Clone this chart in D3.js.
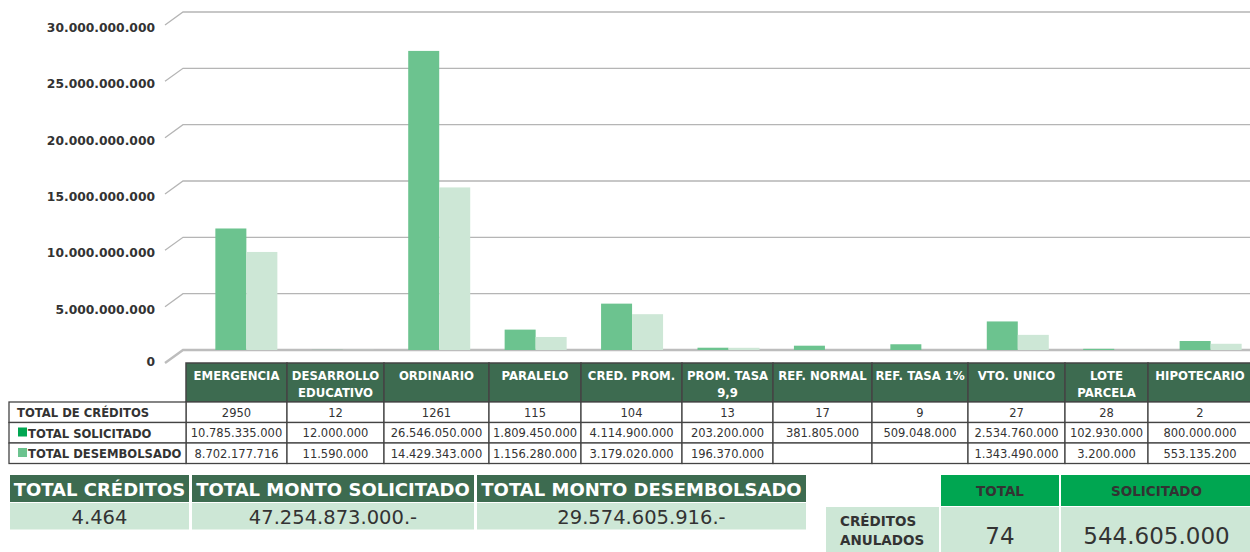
<!DOCTYPE html>
<html>
<head>
<meta charset="utf-8">
<script src="https://cdn.jsdelivr.net/npm/d3@7"></script>
<style>
  body { margin: 0; background: #fff; }
  svg { display: block; font-family: "DejaVu Sans", sans-serif; }
</style>
</head>
<body>
<div id="chart"></div>
<script>
// data
var categories = ["EMERGENCIA", "DESARROLLO|EDUCATIVO", "ORDINARIO", "PARALELO", "CRED. PROM.",
  "PROM. TASA|9,9", "REF. NORMAL", "REF. TASA 1%", "VTO. UNICO", "LOTE|PARCELA", "HIPOTECARIO"];
var totalCreditos = [2950, 12, 1261, 115, 104, 13, 17, 9, 27, 28, 2];
var solicitado = [10785335000, 12000000, 26546050000, 1809450000, 4114900000, 203200000,
  381805000, 509048000, 2534760000, 102930000, 800000000];
var desembolsado = [8702177716, 11590000, 14429343000, 1156280000, 3179020000, 196370000,
  null, null, 1343490000, 3200000, 553135200];
var yTicks = [0, 5000000000, 10000000000, 15000000000, 20000000000, 25000000000, 30000000000];
var rowLabels = ["TOTAL DE CRÉDITOS", "TOTAL SOLICITADO", "TOTAL DESEMBOLSADO"];
var totalLabels = ["TOTAL CRÉDITOS", "TOTAL MONTO SOLICITADO", "TOTAL MONTO DESEMBOLSADO"];
var totalValues = ["4.464", "47.254.873.000.-", "29.574.605.916.-"];
var anuladosLabels = ["TOTAL", "SOLICITADO"];
var anuladosValues = [74, 544605000];

var W = 1250, H = 552;
var cSolic = "#6cc38f", cDesem = "#cde7d6", cHead = "#3d6b50", cBright = "#00a651";
var cText = "#333", cBorder = "#444";

var es = d3.formatLocale({ decimal: ",", thousands: ".", grouping: [3], currency: ["$", ""] });
var fmt = es.format(",d");

var svg = d3.select("#chart").append("svg").attr("width", W).attr("height", H);

// scales
var y = d3.scaleLinear().domain([0, 30000000000]).range([350, 12]);
var x = d3.scaleBand().domain(categories).range([198, 1259]).paddingInner(0.357).paddingOuter(0.18);
var xs = d3.scaleBand().domain(["s", "d"]).range([0, x.bandwidth()]);

// gridlines, slanted on the left like the 3d back wall
var grid = svg.append("g");
yTicks.forEach(function (t) {
  var yy = y(t);
  var floor = t === 0;
  grid.append("path")
    .attr("d", "M165," + (yy + 13) + "L183," + yy + "L" + W + "," + yy)
    .attr("fill", "none")
    .attr("stroke", floor ? "#bdbdbd" : "#b5b5b5")
    .attr("stroke-width", floor ? 2.4 : 1.3);
  grid.append("text")
    .attr("x", 155).attr("y", yy + (floor ? 16 : 20))
    .attr("text-anchor", "end")
    .attr("font-size", 12.3).attr("font-weight", "bold")
    .attr("fill", cText)
    .text(fmt(t));
});

// bars
var bars = svg.append("g");
categories.forEach(function (c, i) {
  bars.append("rect")
    .attr("x", x(c) + xs("s")).attr("width", xs.bandwidth())
    .attr("y", y(solicitado[i])).attr("height", y(0) - y(solicitado[i]))
    .attr("fill", cSolic);
  if (desembolsado[i] != null) {
    bars.append("rect")
      .attr("x", x(c) + xs("d")).attr("width", xs.bandwidth())
      .attr("y", y(desembolsado[i])).attr("height", y(0) - y(desembolsado[i]))
      .attr("fill", cDesem);
  }
});

// data table under the chart
var colEdges = [186, 287, 384, 489, 581, 682, 773, 872, 968, 1065, 1148, 1252];
var rowEdges = [402, 422.5, 443, 463.5];
var table = svg.append("g");

categories.forEach(function (c, i) {
  var x0 = colEdges[i], x1 = colEdges[i + 1], cx = (x0 + x1) / 2;
  table.append("rect").attr("x", x0).attr("y", 363).attr("width", x1 - x0).attr("height", 39)
    .attr("fill", cHead).attr("stroke", cBorder).attr("stroke-width", 1.5);
  c.split("|").forEach(function (line, k) {
    table.append("text").attr("x", cx).attr("y", 380 + k * 16.5)
      .attr("text-anchor", "middle").attr("font-size", 11.7).attr("font-weight", "bold")
      .attr("fill", "#fff").text(line);
  });
  var vals = [totalCreditos[i], solicitado[i], desembolsado[i]];
  vals.forEach(function (v, r) {
    table.append("rect").attr("x", x0).attr("y", rowEdges[r])
      .attr("width", x1 - x0).attr("height", rowEdges[r + 1] - rowEdges[r])
      .attr("fill", "#fff").attr("stroke", cBorder).attr("stroke-width", 1.3);
    if (v != null) {
      table.append("text").attr("x", cx).attr("y", rowEdges[r] + 14.5)
        .attr("text-anchor", "middle").attr("font-size", 11.5)
        .attr("fill", cText).text(r === 0 ? v : fmt(v));
    }
  });
});

rowLabels.forEach(function (lab, r) {
  table.append("rect").attr("x", 9).attr("y", rowEdges[r])
    .attr("width", 177).attr("height", rowEdges[r + 1] - rowEdges[r])
    .attr("fill", "#fff").attr("stroke", cBorder).attr("stroke-width", 1.3);
  var tx = 17;
  if (r > 0) {
    table.append("rect").attr("x", 18).attr("y", rowEdges[r] + 5).attr("width", 9).attr("height", 9)
      .attr("fill", r === 1 ? cBright : cSolic);
    tx = 28;
  }
  table.append("text").attr("x", tx).attr("y", rowEdges[r] + 15)
    .attr("font-size", 11.6).attr("font-weight", "bold").attr("fill", cText).text(lab);
});

// summary totals
var totCols = [[10, 189], [192, 474], [477, 806]];
var totals = svg.append("g");
totalLabels.forEach(function (lab, i) {
  var x0 = totCols[i][0], x1 = totCols[i][1], cx = (x0 + x1) / 2;
  totals.append("rect").attr("x", x0).attr("y", 475).attr("width", x1 - x0).attr("height", 27)
    .attr("fill", cHead);
  totals.append("rect").attr("x", x0).attr("y", 503).attr("width", x1 - x0).attr("height", 26.5)
    .attr("fill", cDesem);
  totals.append("text").attr("x", cx).attr("y", 495.5).attr("text-anchor", "middle")
    .attr("font-size", 18).attr("font-weight", "bold").attr("fill", "#fff").text(lab);
  totals.append("text").attr("x", cx).attr("y", 523.5).attr("text-anchor", "middle")
    .attr("font-size", 19.5).attr("fill", cText).text(totalValues[i]);
});

// creditos anulados
var anCols = [[941, 1059], [1061, 1252]];
var an = svg.append("g");
an.append("rect").attr("x", 826).attr("y", 507).attr("width", 113).attr("height", 46).attr("fill", cDesem);
an.append("text").attr("x", 840).attr("y", 526).attr("font-size", 13.5).attr("font-weight", "bold")
  .attr("fill", cText).text("CRÉDITOS");
an.append("text").attr("x", 840).attr("y", 545).attr("font-size", 13.5).attr("font-weight", "bold")
  .attr("fill", cText).text("ANULADOS");
anuladosLabels.forEach(function (lab, i) {
  var x0 = anCols[i][0], x1 = anCols[i][1], cx = (x0 + x1) / 2;
  an.append("rect").attr("x", x0).attr("y", 475).attr("width", x1 - x0).attr("height", 31).attr("fill", cBright);
  an.append("rect").attr("x", x0).attr("y", 507).attr("width", x1 - x0).attr("height", 46).attr("fill", cDesem);
  an.append("text").attr("x", cx).attr("y", 496).attr("text-anchor", "middle")
    .attr("font-size", 13.5).attr("font-weight", "bold").attr("fill", cText).text(lab);
  an.append("text").attr("x", cx).attr("y", 544).attr("text-anchor", "middle")
    .attr("font-size", 23).attr("fill", cText).text(fmt(anuladosValues[i]));
});
</script>
</body>
</html>
